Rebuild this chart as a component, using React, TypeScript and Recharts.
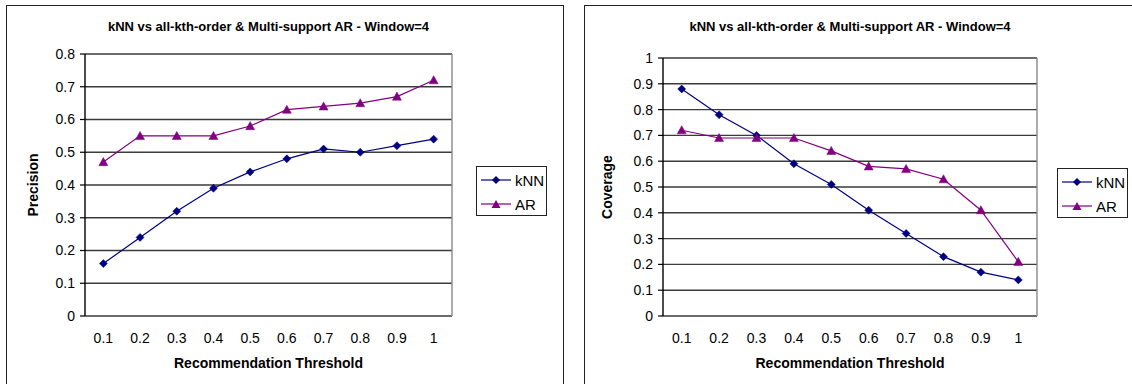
import React from 'react';
import { LineChart, Line, XAxis, YAxis, CartesianGrid, ReferenceLine } from 'recharts';

const categories = ['0.1', '0.2', '0.3', '0.4', '0.5', '0.6', '0.7', '0.8', '0.9', '1'];
const precisionKnn = [0.16, 0.24, 0.32, 0.39, 0.44, 0.48, 0.51, 0.5, 0.52, 0.54];
const precisionAr = [0.47, 0.55, 0.55, 0.55, 0.58, 0.63, 0.64, 0.65, 0.67, 0.72];
const coverageKnn = [0.88, 0.78, 0.7, 0.59, 0.51, 0.41, 0.32, 0.23, 0.17, 0.14];
const coverageAr = [0.72, 0.69, 0.69, 0.69, 0.64, 0.58, 0.57, 0.53, 0.41, 0.21];
const precisionTicks = [0, 0.1, 0.2, 0.3, 0.4, 0.5, 0.6, 0.7, 0.8];
const coverageTicks = [0, 0.1, 0.2, 0.3, 0.4, 0.5, 0.6, 0.7, 0.8, 0.9, 1];
const seriesNames = ['kNN', 'AR'];
const chartTitle = 'kNN vs all-kth-order & Multi-support AR - Window=4';
const xTitle = 'Recommendation Threshold';

const FONT = '"Liberation Sans", Arial, sans-serif';
const KNN_COLOR = '#000080';
const AR_COLOR = '#800080';

const diamondPath = (cx: number, cy: number, r: number) =>
  `M${cx},${cy - r}L${cx + r},${cy}L${cx},${cy + r}L${cx - r},${cy}Z`;
const trianglePath = (cx: number, cy: number, r: number) =>
  `M${cx},${cy - r}L${cx + r},${cy + r * 0.8}L${cx - r},${cy + r * 0.8}Z`;

const renderDiamond = (p: any) => (
  <path key={`kd-${p.index}`} d={diamondPath(p.cx, p.cy, 4)} fill={KNN_COLOR} stroke={KNN_COLOR} strokeWidth={0.5} />
);
const renderTriangle = (p: any) => (
  <path key={`at-${p.index}`} d={trianglePath(p.cx, p.cy, 4.5)} fill={AR_COLOR} stroke={AR_COLOR} strokeWidth={0.5} />
);

const LegendBox = ({ left, top }: { left: number; top: number }) => (
  <div
    style={{
      position: 'absolute',
      left,
      top,
      border: '1px solid #222',
      background: '#fff',
      width: 69,
      height: 48,
      boxSizing: 'content-box',
      fontFamily: FONT,
      fontSize: 15,
      color: '#000',
    }}
  >
    {seriesNames.map((name, i) => (
      <div key={name} style={{ display: 'flex', alignItems: 'center', height: 24, marginTop: i === 0 ? 1 : 0 }}>
        <svg width={36} height={14} style={{ marginLeft: 4 }}>
          <line x1={0} y1={7} x2={30} y2={7} stroke={i === 0 ? KNN_COLOR : AR_COLOR} strokeWidth={1.2} />
          <path
            d={i === 0 ? diamondPath(15, 7, 4) : trianglePath(15, 7.5, 4.5)}
            fill={i === 0 ? KNN_COLOR : AR_COLOR}
          />
        </svg>
        <span style={{ marginLeft: -2 }}>{name}</span>
      </div>
    ))}
  </div>
);

type PanelProps = {
  offsetX: number;
  yLabel: string;
  yTicks: number[];
  knn: number[];
  ar: number[];
  margin: { top: number; right: number; bottom: number; left: number };
  legendPos: { left: number; top: number };
  yLabelOffset: number;
};

const ChartPanel = ({ offsetX, yLabel, yTicks, knn, ar, margin, legendPos, yLabelOffset }: PanelProps) => {
  const data = categories.map((c, i) => ({ idx: i, cat: c, knn: knn[i], ar: ar[i] }));
  const n = categories.length;
  const boundaryTicks = categories.map((_, i) => i - 0.5).concat([n - 0.5]);
  const centerTicks = categories.map((_, i) => i);
  const yMax = yTicks[yTicks.length - 1];
  return (
    <div style={{ position: 'absolute', left: offsetX, top: 0, width: 566, height: 384 }}>
      <LineChart width={566} height={384} data={data} margin={margin}>
        <CartesianGrid xAxisId="labels" vertical={false} stroke="#3a3a3a" strokeWidth={1.4} />
        <XAxis
          xAxisId="ticks"
          dataKey="idx"
          type="number"
          domain={[-0.5, n - 0.5]}
          allowDataOverflow
          ticks={boundaryTicks}
          interval={0}
          tickFormatter={() => ''}
          tickSize={5}
          height={0}
          axisLine={{ stroke: '#000', strokeWidth: 1.4 }}
          tickLine={{ stroke: '#000', strokeWidth: 1.2 }}
        />
        <XAxis
          xAxisId="labels"
          dataKey="idx"
          type="number"
          domain={[-0.5, n - 0.5]}
          allowDataOverflow
          ticks={centerTicks}
          interval={0}
          tickFormatter={(v: number) => categories[v]}
          axisLine={false}
          tickLine={false}
          tickSize={6}
          tickMargin={11}
          height={56}
          tick={{ fill: '#000', fontSize: 14, fontFamily: FONT }}
          label={{
            content: (p: any) => {
              const vb = p.viewBox || {};
              return (
                <text
                  x={vb.x + vb.width / 2}
                  y={vb.y + 47}
                  textAnchor="middle"
                  dominantBaseline="central"
                  fontFamily={FONT}
                  fontSize={14}
                  fontWeight="bold"
                  fill="#000"
                >
                  {xTitle}
                </text>
              );
            },
          }}
        />
        <YAxis
          type="number"
          domain={[0, yMax]}
          ticks={yTicks}
          interval={0}
          tickFormatter={(v: number) => String(v)}
          width={60}
          tickSize={5}
          tickMargin={5}
          axisLine={{ stroke: '#000', strokeWidth: 1.4 }}
          tickLine={{ stroke: '#000', strokeWidth: 1.2 }}
          tick={{ fill: '#000', fontSize: 14, fontFamily: FONT }}
          label={{
            content: (p: any) => {
              const vb = p.viewBox || {};
              const x = vb.x + yLabelOffset;
              const y = vb.y + vb.height / 2;
              return (
                <text
                  x={x}
                  y={y}
                  transform={`rotate(-90 ${x} ${y})`}
                  textAnchor="middle"
                  dominantBaseline="central"
                  fontFamily={FONT}
                  fontSize={14}
                  fontWeight="bold"
                  fill="#000"
                >
                  {yLabel}
                </text>
              );
            },
          }}
        />
        <ReferenceLine xAxisId="labels" x={n - 0.5} stroke="#888" strokeWidth={1.4} />
        <Line
          xAxisId="labels"
          dataKey="knn"
          name={seriesNames[0]}
          stroke={KNN_COLOR}
          strokeWidth={1.2}
          dot={renderDiamond}
          activeDot={false}
          isAnimationActive={false}
        />
        <Line
          xAxisId="labels"
          dataKey="ar"
          name={seriesNames[1]}
          stroke={AR_COLOR}
          strokeWidth={1.2}
          dot={renderTriangle}
          activeDot={false}
          isAnimationActive={false}
        />
      </LineChart>
      <LegendBox left={legendPos.left} top={legendPos.top} />
      <div
        style={{
          position: 'absolute',
          top: 19,
          left: margin.left + 60 + (566 - margin.left - 60 - margin.right) / 2,
          transform: 'translateX(-50%)',
          whiteSpace: 'nowrap',
          fontFamily: FONT,
          fontSize: 13,
          fontWeight: 'bold',
          color: '#000',
        }}
      >
        {chartTitle}
      </div>
    </div>
  );
};

export default function App() {
  return (
    <div
      style={{
        position: 'absolute',
        left: 0,
        top: 0,
        width: 1132,
        height: 384,
        overflow: 'hidden',
        background: '#fff',
      }}
    >
      <div
        style={{
          position: 'absolute',
          left: 6,
          top: 5,
          width: 556,
          height: 420,
          border: '1.5px solid #222',
        }}
      />
      <div
        style={{
          position: 'absolute',
          left: 584,
          top: 5,
          width: 600,
          height: 420,
          border: '1.5px solid #222',
        }}
      />
      <ChartPanel
        offsetX={0}
        yLabel="Precision"
        yTicks={precisionTicks}
        knn={precisionKnn}
        ar={precisionAr}
        margin={{ top: 54, right: 114, bottom: 12, left: 25 }}
        legendPos={{ left: 476, top: 166 }}
        yLabelOffset={8}
      />
      <ChartPanel
        offsetX={566}
        yLabel="Coverage"
        yTicks={coverageTicks}
        knn={coverageKnn}
        ar={coverageAr}
        margin={{ top: 58, right: 95, bottom: 12, left: 37 }}
        legendPos={{ left: 491, top: 168 }}
        yLabelOffset={4}
      />
    </div>
  );
}
